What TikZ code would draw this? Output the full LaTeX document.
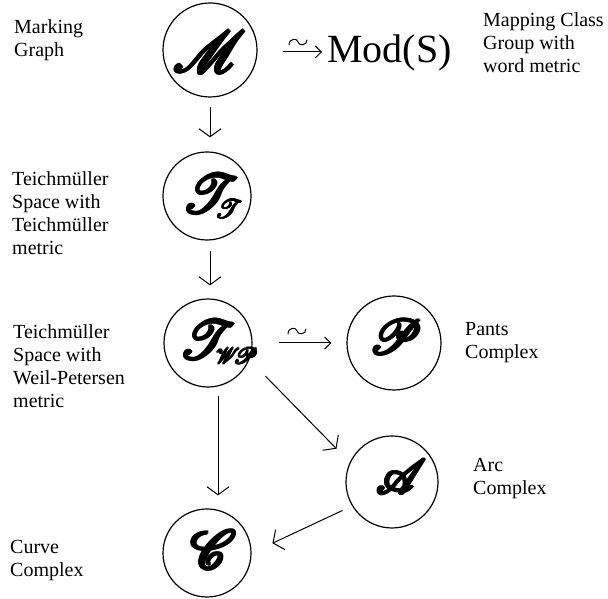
\documentclass[tikz,border=0pt]{standalone}
\usepackage{fontspec}
\setmainfont{Liberation Serif}
\usetikzlibrary{arrows.meta}
% Ralph Smith's formal script, usable at any size
\DeclareFontFamily{U}{brushscr}{}
\DeclareFontShape{U}{brushscr}{m}{n}{<-> rsfs10}{}
% heavy pen stroke: the glyph stamped at small offsets
\newbox\inkbox
\newcommand{\inkshift}[2]{\rlap{\kern#1\raise#2\copy\inkbox}}
\newcommand{\inked}[1]{\setbox\inkbox\hbox{#1}\leavevmode
  \inkshift{1.5pt}{0pt}\inkshift{-1.5pt}{0pt}\inkshift{0pt}{1.5pt}\inkshift{0pt}{-1.5pt}%
  \inkshift{1.05pt}{1.05pt}\inkshift{-1.05pt}{1.05pt}\inkshift{1.05pt}{-1.05pt}\inkshift{-1.05pt}{-1.05pt}%
  \inkshift{0.75pt}{0pt}\inkshift{-0.75pt}{0pt}\inkshift{0pt}{0.75pt}\inkshift{0pt}{-0.75pt}%
  \copy\inkbox}
\newcommand{\inkedsmall}[1]{\setbox\inkbox\hbox{#1}\leavevmode
  \inkshift{0.8pt}{0pt}\inkshift{-0.8pt}{0pt}\inkshift{0pt}{0.8pt}\inkshift{0pt}{-0.8pt}%
  \inkshift{0.55pt}{0.55pt}\inkshift{-0.55pt}{0.55pt}\inkshift{0.55pt}{-0.55pt}\inkshift{-0.55pt}{-0.55pt}%
  \copy\inkbox}
\tikzset{
  pics/wave/.style={code={
    \draw[line width=1pt,line cap=round]
      (0,0) .. controls (0,7) and (8.5,7) .. (9,3)
            .. controls (9.5,-1) and (18,-1) .. (18,5);}}
}
\begin{document}
\begin{tikzpicture}[x=1pt,y=1pt,
  ring/.style={circle,draw,line width=1.2pt,inner sep=0pt,minimum size=#1},
  lab/.style={anchor=base west,align=left,inner sep=0pt,font=\fontsize{20}{23.3}\selectfont},
  glyph/.style={inner sep=0pt,font=\fontsize{#1}{#1}\usefont{U}{brushscr}{m}{n}},
  down/.style={line width=1pt,-{Straight Barb[length=8pt,width=22pt]}},
  iso/.style={line width=1pt,-{Straight Barb[length=6pt,width=12pt]}}]
\useasboundingbox (0,0) rectangle (608,599);

% circles
\node[ring=94pt] (M)  at (210,549) {};
\node[ring=88pt] (T)  at (207,403) {};
\node[ring=88pt] (Tw) at (208,256) {};
\node[ring=94pt] (P)  at (394,256) {};
\node[ring=92pt] (A)  at (392,117) {};
\node[ring=88pt] (C)  at (207,46)  {};

% script letters
\node[glyph=58] (Mg)  at (205,547)   {\inked{M}};
\node[glyph=54] (Tg)  at (203,405)   {\inked{T}};
\node[glyph=26] (Tgs) at (225,390)   {\inkedsmall{T}};
\node[glyph=54] (Wg)  at (200,259)   {\inked{T}};
\node[glyph=22] (Wgs) at (236,243)   {\inkedsmall{WP}};
\node[glyph=48] (Pg)  at (394,262)   {\inked{P}};
\node[glyph=48] (Ag)  at (396,122)   {\inked{A}};
\node[glyph=54] (Cg)  at (209,49)    {\inked{C}};

\node[anchor=base west,inner sep=0pt,font=\fontsize{40}{40}\selectfont] (mod) at (327,536) {Mod(S)};

% labels (anchored at the baseline of their last line)
\node[lab] (lmark)  at (14,542)  {Marking\\Graph};
\node[lab] (lmcg)   at (483,526) {Mapping Class\\Group with\\word metric};
\node[lab] (lteich) at (12,344)  {Teichmüller\\Space with\\Teichmüller\\metric};
\node[lab] (lwp)    at (13,191)  {Teichmüller\\Space with\\Weil-Petersen\\metric};
\node[lab] (lpants) at (465,240) {Pants\\Complex};
\node[lab] (larc)   at (473,104) {Arc\\Complex};
\node[lab] (lcurve) at (10,22)   {Curve\\Complex};

% arrows
\draw[down,shorten <=9pt,shorten >=14pt] (M.south) -- (M.south |- T.north);
\draw[down,shorten <=10pt,shorten >=13pt] ([xshift=3pt]T.south) -- ([xshift=3pt]T.south |- Tw.north);
\draw[down,shorten <=8pt,shorten >=13pt] ([xshift=10pt]Tw.south) -- ([xshift=10pt]Tw.south |- C.north);
\draw[down,shorten <=23pt,shorten >=19pt] (Tw.-22) -- (A.155);
\draw[down,shorten <=10.5pt,shorten >=23pt] (A.211) -- (C.0);
\draw[iso,shorten <=25pt,shorten >=5pt] ([yshift=-2pt]M.east) -- ([yshift=-2pt]M.east -| mod.west);
\draw[iso,shorten <=26pt,shorten >=15pt] (Tw.east) -- (P.west);
\pic at (289,554) {wave};
\pic at (288,265) {wave};
\end{tikzpicture}
\end{document}
